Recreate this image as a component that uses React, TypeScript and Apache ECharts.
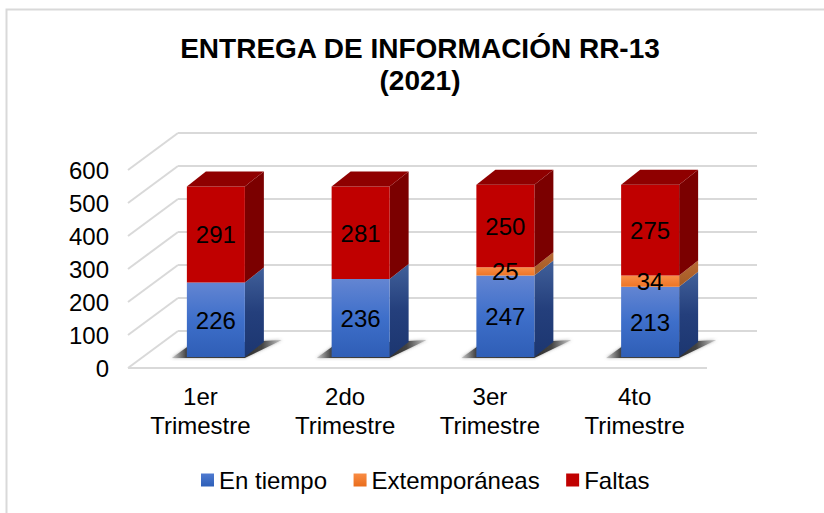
import React, { useEffect, useRef } from "react";
import * as echarts from "echarts";

const categories = ["1er\nTrimestre", "2do\nTrimestre", "3er\nTrimestre", "4to\nTrimestre"];
const enTiempo = [226, 236, 247, 213];
const extemporaneas = [0, 0, 25, 34];
const faltas = [291, 281, 250, 275];
const ticks = [0, 100, 200, 300, 400, 500, 600];
const titleLines = "ENTREGA DE INFORMACIÓN RR-13\n(2021)";

const FONT = '"Liberation Sans", Arial, sans-serif';
const WALL_DX = 50, WALL_DY = -37;
const BAR_X = 15.5, BAR_Y = -11, BAR_W = 58, DEPTH_X = 19, DEPTH_Y = -15;

const grad = (x2: number, y2: number, stops: [number, string][]) => ({
  type: "linear", x: 0, y: 0, x2, y2,
  colorStops: stops.map(([offset, color]) => ({ offset, color })),
});

const palette = [
  {
    name: "En tiempo",
    legend: grad(0, 1, [[0, "#4f7ad0"], [1, "#2d5fb8"]]),
    front: grad(0, 1, [[0, "#6385d2"], [0.5, "#3e6fca"], [1, "#2f5eb6"]]),
    side: grad(0, 1, [[0, "#41609a"], [0.5, "#243f7c"], [1, "#1c3670"]]),
    top: "#2c4a8a",
  },
  {
    name: "Extemporáneas",
    legend: grad(0, 1, [[0, "#f98c44"], [1, "#e96d1c"]]),
    front: grad(0, 1, [[0, "#f98e48"], [1, "#ee7525"]]),
    side: grad(0, 1, [[0, "#b96a35"], [1, "#a35a24"]]),
    top: "#a35a24",
  },
  {
    name: "Faltas",
    legend: "#c00000",
    front: "#c00000",
    side: "#7b0000",
    top: "#8f0000",
  },
];

const stackOf = (values: number[], below: number[][]) =>
  values.map((v, i) => {
    const base = below.reduce((sum, s) => sum + s[i], 0);
    return [i, base, base + v, v];
  });

const valueSeries = [enTiempo, extemporaneas, faltas];

export default function App() {
  const ref = useRef<HTMLDivElement>(null);
  useEffect(() => {
    const chart = echarts.init(ref.current!, null, { renderer: "svg" });

    const renderSegment = (k: number) => (params: any, api: any) => {
      const cat = api.value(0), lo = api.value(1), hi = api.value(2), val = api.value(3);
      if (!val) return { type: "group", children: [] };
      const b = api.coord([cat, lo]);
      const t = api.coord([cat, hi]);
      const x0 = b[0] + BAR_X - BAR_W / 2;
      const x1 = x0 + BAR_W;
      const yb = b[1] + BAR_Y;
      const yt = t[1] + BAR_Y;
      const p = palette[k];
      const children: any[] = [
        { type: "polygon", shape: { points: [[x1, yb], [x1 + DEPTH_X, yb + DEPTH_Y], [x1 + DEPTH_X, yt + DEPTH_Y], [x1, yt]] }, style: { fill: p.side } },
        { type: "rect", shape: { x: x0, y: yt, width: BAR_W, height: yb - yt }, style: { fill: p.front } },
      ];
      if (k === 2) {
        children.push({
          type: "polygon",
          shape: { points: [[x0, yt], [x0 + DEPTH_X, yt + DEPTH_Y], [x1 + DEPTH_X, yt + DEPTH_Y], [x1, yt]] },
          style: { fill: p.top },
        });
      }
      return { type: "group", children };
    };

    const renderLabel = (params: any, api: any) => {
      const cat = api.value(0), lo = api.value(1), hi = api.value(2), val = api.value(3);
      if (!val) return { type: "group", children: [] };
      const b = api.coord([cat, lo]);
      const t = api.coord([cat, hi]);
      return {
        type: "text",
        style: {
          x: b[0] + BAR_X,
          y: (b[1] + t[1]) / 2 + BAR_Y + 0.5,
          text: String(val),
          fill: "#000",
          font: `24px ${FONT}`,
          align: "center",
          verticalAlign: "middle",
        },
      };
    };

    const renderShadow = (params: any, api: any) => {
      const b = api.coord([api.value(0), 0]);
      const x0 = b[0] + BAR_X - BAR_W / 2;
      const x1 = x0 + BAR_W;
      const y = b[1] + BAR_Y;
      return {
        type: "polygon",
        shape: { points: [[x0 - 15, y + 1], [x0 + 3, y - 12], [x1 + 37, y - 17], [x1, y + 1]] },
        style: {
          fill: grad(1, 0, [[0, "#cccccc"], [0.13, "#444444"], [0.7, "#333333"], [0.82, "#444444"], [1, "#cccccc"]]),
          shadowBlur: 3,
          shadowColor: "rgba(90,90,90,0.5)",
        },
      };
    };

    const renderWalls = (params: any, api: any) => {
      const tick = api.value(0);
      const cs = params.coordSys;
      const p = api.coord([0, tick]);
      const lineStyle = { stroke: "#d9d9d9", lineWidth: 2, fill: "none" };
      const y = p[1];
      const left = cs.x;
      const right = cs.x + cs.width;
      const children: any[] = [
        { type: "line", shape: { x1: left, y1: y, x2: left + WALL_DX, y2: y + WALL_DY }, style: lineStyle },
        { type: "line", shape: { x1: left + WALL_DX, y1: y + WALL_DY, x2: right + WALL_DX, y2: y + WALL_DY }, style: lineStyle },
      ];
      if (tick === 0) {
        children.push({ type: "line", shape: { x1: left, y1: y, x2: right, y2: y }, style: lineStyle });
      }
      return { type: "group", children };
    };

    const encode = { x: 0, y: [1, 2] };
    chart.setOption({
      animation: false,
      backgroundColor: "#fff",
      title: {
        text: titleLines,
        left: 415,
        top: 27,
        textAlign: "center",
        textStyle: { fontFamily: FONT, fontSize: 28, fontWeight: "bold", color: "#000", lineHeight: 32 },
      },
      legend: {
        left: 196,
        top: 463,
        itemWidth: 13,
        itemHeight: 13,
        itemGap: 26.5,
        textStyle: { fontFamily: FONT, fontSize: 24, color: "#000" },
        data: palette.map((p) => ({ name: p.name, icon: "rect", itemStyle: { color: p.legend } })),
      },
      grid: { left: 128, right: 117, top: 170, bottom: 145, containLabel: false },
      xAxis: {
        type: "category",
        data: categories,
        axisLine: { show: false },
        axisTick: { show: false },
        axisLabel: { color: "#000", fontFamily: FONT, fontSize: 24, lineHeight: 29, margin: 14, interval: 0 },
      },
      yAxis: {
        type: "value",
        min: 0,
        max: 600,
        interval: 100,
        axisLine: { show: false },
        axisTick: { show: false },
        splitLine: { show: false },
        axisLabel: { color: "#000", fontFamily: FONT, fontSize: 24, margin: 19 },
      },
      graphic: [
        {
          type: "rect",
          silent: true,
          z: -1,
          shape: { x: 6.5, y: 9.5, width: 850, height: 530 },
          style: { fill: "none", stroke: "#d9d9d9", lineWidth: 2 },
        },
      ],
      series: [
        { type: "custom", name: "walls", silent: true, z: 1, renderItem: renderWalls, data: ticks.map((t) => [t]), encode: { y: 0 }, tooltip: { show: false } },
        { type: "custom", name: "shadow", silent: true, z: 2, renderItem: renderShadow, data: categories.map((_, i) => [i, 0]), encode: { x: 0, y: 1 } },
        ...palette.map((p, k) => ({
          type: "custom",
          name: p.name,
          z: 3 + k,
          renderItem: renderSegment(k),
          encode,
          data: stackOf(valueSeries[k], valueSeries.slice(0, k)),
          itemStyle: { color: "#c00000" },
        })),
        ...palette.map((p, k) => ({
          type: "custom",
          name: `${p.name} etiqueta`,
          z: 10,
          renderItem: renderLabel,
          encode,
          data: stackOf(valueSeries[k], valueSeries.slice(0, k)),
        })),
      ],
    });
    return () => chart.dispose();
  }, []);
  return <div ref={ref} style={{ width: 824, height: 513, position: "fixed", left: 0, top: 0 }} />;
}
